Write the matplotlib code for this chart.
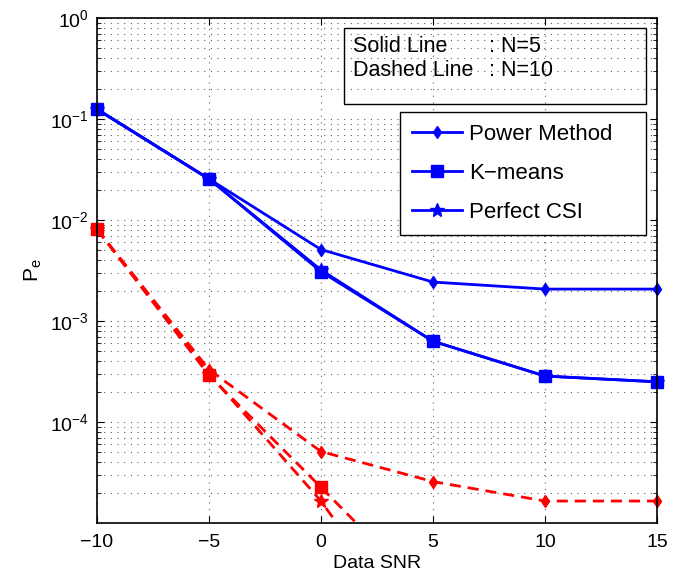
import numpy as np
import matplotlib
matplotlib.use("Agg")
import matplotlib.pyplot as plt
from matplotlib.ticker import LogLocator, NullFormatter, FixedLocator
from matplotlib.patches import Rectangle

plt.rcParams['font.family'] = ['Liberation Sans', 'DejaVu Sans']
plt.rcParams['mathtext.fontset'] = 'custom'
plt.rcParams['mathtext.rm'] = 'Liberation Sans'
plt.rcParams['mathtext.it'] = 'Liberation Sans'

snr = [-10, -5, 0, 5, 10, 15]

# N = 5 (solid)
power_n5 = [0.125, 0.0255, 0.0051, 0.00243, 0.00207, 0.00207]
kmeans_n5 = [0.125, 0.0255, 0.00308, 0.00063, 0.000285, 0.00025]
perfect_n5 = [0.125, 0.0255, 0.0032, 0.00063, 0.000285, 0.00025]

# N = 10 (dashed)
power_n10 = [0.0081, 0.00033, 5.1e-5, 2.57e-5, 1.65e-5, 1.65e-5]
kmeans_n10 = [0.0081, 0.00029, 2.26e-5, 1.7e-6, np.nan, np.nan]
perfect_n10 = [0.0081, 0.0003, 1.65e-5, 4.6e-7, np.nan, np.nan]

labels = ['Power Method', 'K\u2212means', 'Perfect CSI']
markers = ['d', 's', '*']
msizes = {'d': 6, 's': 8, '*': 10}

YMIN, YMAX = 1e-5, 1

fig = plt.figure(figsize=(6.99, 5.78), dpi=100)
ax = fig.add_axes([97/699, 1-523/578, (657-97)/699, (523-18)/578])

blue = '#0000ff'
red = '#ff0000'
handles = []
for y, m, lab in zip([power_n5, kmeans_n5, perfect_n5], markers, labels):
    h, = ax.semilogy(snr, y, color=blue, lw=2, marker=m, ms=msizes[m], label=lab,
                     clip_on=False, zorder=3)
    handles.append(h)
for y, m in zip([power_n10, kmeans_n10, perfect_n10], markers):
    ya = np.array(y, dtype=float)
    ax.semilogy(snr, ya, color=red, lw=2, ls=(0, (4, 2.5)), zorder=3)
    ym = np.where(ya >= YMIN, ya, np.nan)
    ax.semilogy(snr, ym, color=red, ls='none', marker=m, ms=msizes[m],
                clip_on=False, zorder=3)

ax.set_xlim(-10, 15)
ax.set_ylim(YMIN, YMAX)
ax.set_xticks([-10, -5, 0, 5, 10, 15])
ax.set_xticklabels(['\u221210', '\u22125', '0', '5', '10', '15'])
ax.yaxis.set_major_locator(FixedLocator([1e-4, 1e-3, 1e-2, 1e-1, 1e0]))
ax.yaxis.set_minor_locator(LogLocator(base=10, subs=np.arange(2, 10), numticks=20))
ax.yaxis.set_minor_formatter(NullFormatter())
ax.set_yticklabels(['$10^{-4}$', '$10^{-3}$', '$10^{-2}$', '$10^{-1}$', '$10^{0}$'])

ax.tick_params(which='both', direction='in', top=True, right=True, labelsize=14)
ax.tick_params(axis='x', which='major', pad=8)
ax.tick_params(axis='y', which='major', pad=6)
ax.tick_params(which='major', length=5)
ax.tick_params(which='minor', length=3)
gcol = '#606060'
ax.grid(True, which='major', ls=(0, (1, 5)), color=gcol, lw=0.8)
ax.grid(True, which='minor', axis='y', ls=(0, (1, 5)), color=gcol, lw=0.8)
ax.set_axisbelow(True)
for s in ax.spines.values():
    s.set_linewidth(1.2)
    s.set_zorder(4)

ax.set_xlabel('Data SNR', fontsize=14, labelpad=3)
ax.set_ylabel('$\\mathrm{P_e}$', fontsize=15, labelpad=4)

x0 = (400-97)/560
y1 = (523-112)/505
w = (646-400)/560
leg = ax.legend(handles=handles, loc='upper left',
                bbox_to_anchor=(x0, y1 - 0.3, w, 0.3), mode='expand',
                borderaxespad=0,
                fontsize=16, frameon=True, fancybox=False, edgecolor='black',
                framealpha=1, handlelength=2.25, handletextpad=0.3,
                labelspacing=0.8, borderpad=0.55)
leg.get_frame().set_linewidth(1.0)
leg.set_zorder(6)

# Text box (transparent)
rect = Rectangle((344/699, 1-104/578), (646-344)/699, (104-28)/578,
                 transform=fig.transFigure, facecolor='none', edgecolor='black',
                 lw=1.0, zorder=5)
fig.patches.append(rect)
fig.text(353/699, 1-46/578, 'Solid Line', fontsize=15.5, va='center', zorder=6)
fig.text(489/699, 1-46/578, ': N=5', fontsize=15.5, va='center', zorder=6)
fig.text(353/699, 1-71/578, 'Dashed Line', fontsize=15.5, va='center', zorder=6)
fig.text(489/699, 1-71/578, ': N=10', fontsize=15.5, va='center', zorder=6)

fig.savefig('out.png', dpi=100)
